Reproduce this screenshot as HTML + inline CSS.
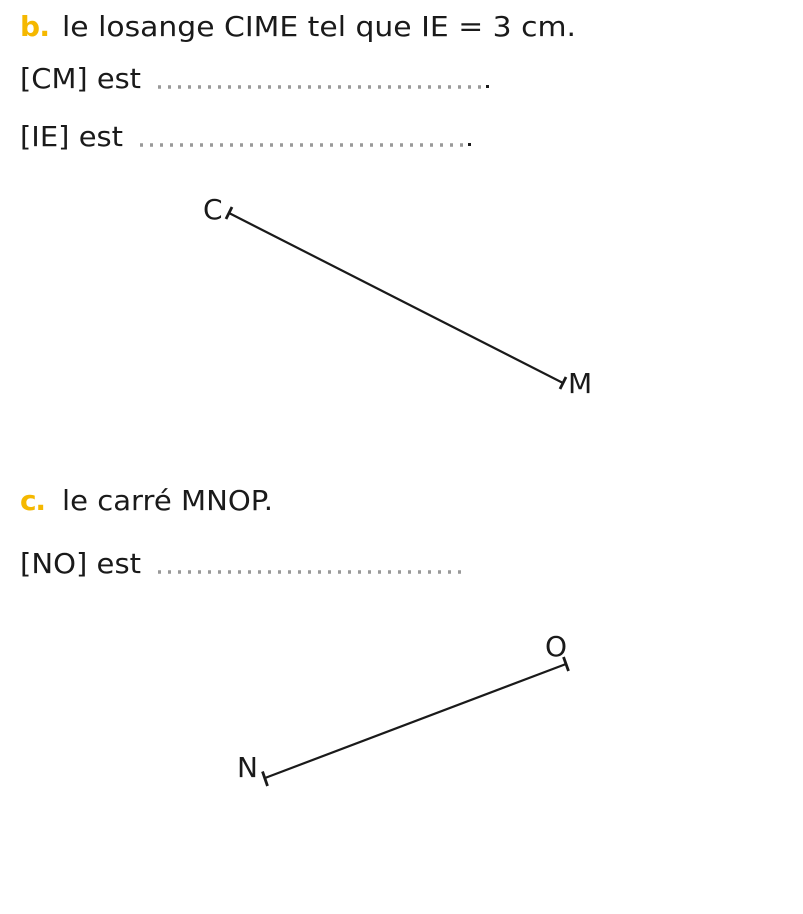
<!DOCTYPE html>
<html><head><meta charset="utf-8"><style>
html,body{margin:0;padding:0;background:#fff;width:803px;height:914px;overflow:hidden}
svg{display:block}
text{font-family:"DejaVu Sans","Liberation Sans",sans-serif;fill:#1a1a1a}
</style></head><body>
<svg width="803" height="914" viewBox="0 0 803 914">
<text x="20" y="36" font-size="28" font-weight="bold" style="fill:#f5b800" textLength="30">b.</text>
<text x="62" y="36" font-size="28" textLength="514" lengthAdjust="spacingAndGlyphs">le losange CIME tel que IE = 3 cm.</text>
<text x="20" y="88" font-size="28" textLength="121" lengthAdjust="spacingAndGlyphs">[CM] est</text>
<line x1="158" y1="87" x2="484" y2="87" stroke="#999" stroke-width="3.5" stroke-dasharray="3 7"/>
<rect x="486" y="85" width="3" height="3" fill="#1a1a1a"/>
<text x="20" y="146" font-size="28" textLength="103" lengthAdjust="spacingAndGlyphs">[IE] est</text>
<line x1="140" y1="145" x2="466" y2="145" stroke="#999" stroke-width="3.5" stroke-dasharray="3 7"/>
<rect x="468" y="143" width="3" height="3" fill="#1a1a1a"/>

<line x1="229" y1="213" x2="563" y2="383" stroke="#1a1a1a" stroke-width="2.2"/>
<line x1="232" y1="207" x2="226" y2="219" stroke="#1a1a1a" stroke-width="2.8"/>
<line x1="566" y1="377" x2="560" y2="389" stroke="#1a1a1a" stroke-width="2.8"/>
<text x="203" y="219" font-size="28">C</text>
<text x="568" y="393" font-size="28">M</text>

<text x="20" y="510" font-size="28" font-weight="bold" style="fill:#f5b800" textLength="26">c.</text>
<text x="62" y="510" font-size="28" textLength="211" lengthAdjust="spacingAndGlyphs">le carré MNOP.</text>
<text x="20" y="573" font-size="28" textLength="121" lengthAdjust="spacingAndGlyphs">[NO] est</text>
<line x1="158" y1="572" x2="462" y2="572" stroke="#999" stroke-width="3.5" stroke-dasharray="3 7"/>

<line x1="265" y1="778" x2="566" y2="664" stroke="#1a1a1a" stroke-width="2.2"/>
<line x1="262.5" y1="771.5" x2="267.5" y2="786" stroke="#1a1a1a" stroke-width="2.8"/>
<line x1="563.5" y1="657" x2="568.5" y2="671" stroke="#1a1a1a" stroke-width="2.8"/>
<text x="545" y="656" font-size="28">O</text>
<text x="237" y="777" font-size="28">N</text>
</svg>
</body></html>
